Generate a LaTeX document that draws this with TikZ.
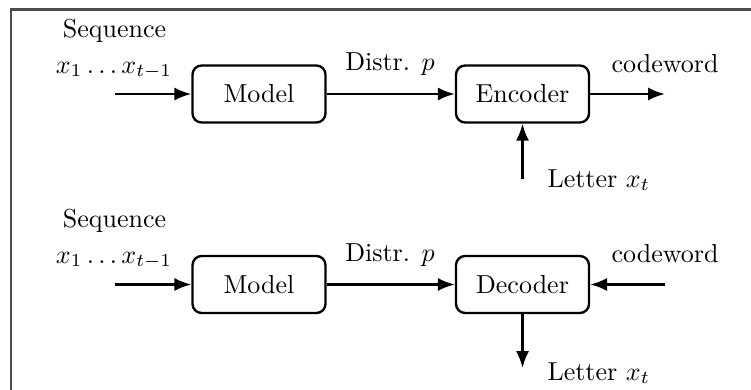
\documentclass[tikz,border=0pt]{standalone}
\usetikzlibrary{arrows.meta}
\begin{document}
\begin{tikzpicture}[x=0.3846pt,y=-0.3846pt,
  block/.style={draw,line width=0.9pt,rounded corners=3.5pt,minimum width=133*0.3846pt,minimum height=57*0.3846pt,inner sep=0pt},
  lbl/.style={inner sep=0pt},
  flow/.style={line width=0.9pt,-{Latex[length=6.5pt,width=5pt]}}]
\useasboundingbox (0,0) rectangle (751,389);
% outer frame (only its top and left edges fall inside the page)
\draw[black!70,line width=0.9pt] (11,420) -- (11,9.5) -- (780,9.5);

% encoder row
\node[block] (model1) at (259,94) {Model};
\node[block] (enc) at (522.5,94) {Encoder};
\coordinate (in1) at (115,94);
\coordinate (out1) at (665,94);
\coordinate (let1) at (522.5,179);
\draw[flow] (in1) -- (model1);
\draw[flow] (model1) -- (enc);
\draw[flow] (enc) -- (out1);
\draw[flow] (let1) -- (enc);
\node[lbl,anchor=base] (seq1) at (114.5,37) {Sequence};
\node[lbl,anchor=base] (xs1) at (114,73) {$x_1\ldots x_{t-1}$};
\node[lbl,anchor=base] (dp1) at (390,70) {Distr. $p$};
\node[lbl,anchor=base] (cw1) at (665,72) {codeword};
\node[lbl,anchor=base west] (lt1) at (547,187) {Letter $x_t$};

% decoder row
\node[block] (model2) at (259,284.5) {Model};
\node[block] (dec) at (522.5,284.5) {Decoder};
\coordinate (in2) at (115,284.5);
\coordinate (cwin2) at (665,284.5);
\coordinate (let2) at (522.5,368);
\draw[flow] (in2) -- (model2);
\draw[flow] (model2) -- (dec);
\draw[flow] (cwin2) -- (dec);
\draw[flow] (dec) -- (let2);
\node[lbl,anchor=base] (seq2) at (114.5,227) {Sequence};
\node[lbl,anchor=base] (xs2) at (114,263) {$x_1\ldots x_{t-1}$};
\node[lbl,anchor=base] (dp2) at (390,261.5) {Distr. $p$};
\node[lbl,anchor=base] (cw2) at (665,262) {codeword};
\node[lbl,anchor=base west] (lt2) at (547,380) {Letter $x_t$};
\end{tikzpicture}
\end{document}
